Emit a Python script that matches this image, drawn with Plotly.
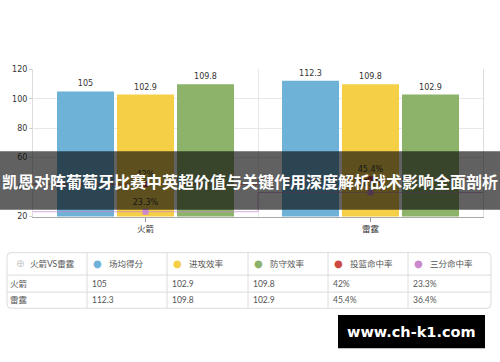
import plotly.graph_objects as go

# Team comparison data
teams = ["火箭", "雷霆"]
bar_names = ["场均得分", "进攻效率", "防守效率"]
avg_points = [105, 112.3]
off_eff = [102.9, 109.8]
def_eff = [109.8, 102.9]
line_names = ["投篮命中率", "三分命中率"]
fg_pct = [42, 45.4]
three_pct = [23.3, 36.4]
y_ticks = [20, 40, 60, 80, 100, 120]

title_text = "凯恩对阵葡萄牙比赛中英超价值与关键作用深度解析战术影响全面剖析"
table_corner = "火箭VS雷霆"
watermark = "www.ch-k1.com"

bar_colors = ["#6EB2D8", "#F5CF46", "#8DB269"]
line_colors = ["#CC4A42", "#CC88CC"]

W, H = 500, 362
def px_x(p):
    return p / W
def px_y(p):
    return 1 - p / H

CHART_FONT = "DejaVu Sans, 'Noto Sans CJK SC'"
TABLE_FONT = "Lato, 'Noto Sans CJK SC'"

fig = go.Figure()
xs = list(range(len(teams)))

for name, vals, col in zip(bar_names, [avg_points, off_eff, def_eff], bar_colors):
    fig.add_trace(go.Bar(
        x=xs, y=vals, name=name, marker_color=col, marker_line_width=0,
        text=[f"{v:g}" for v in vals], textposition="outside",
        textfont=dict(family=CHART_FONT, size=8, color="#333"),
        cliponaxis=False,
    ))

# Percentage series as stepped lines spanning each category band
for name, vals, col in zip(line_names, [fg_pct, three_pct], line_colors):
    sx = [xs[0] - 0.5] + xs + [xs[-1] + 0.5]
    sy = [vals[0]] + vals + [vals[-1]]
    fig.add_trace(go.Scatter(
        x=sx, y=sy, mode="lines", line=dict(color=col, width=1, shape="hvh"),
        opacity=0.7, hoverinfo="skip", showlegend=False,
    ))
    fig.add_trace(go.Scatter(
        x=xs, y=vals, mode="markers+text", name=name,
        marker=dict(symbol="square", size=6, color=col),
        text=[f"{v:g}%" for v in vals], textposition="top center",
        textfont=dict(family=CHART_FONT, size=8, color="#333"),
        cliponaxis=False, showlegend=False,
    ))

fig.update_layout(
    width=W, height=H,
    margin=dict(l=0, r=0, t=0, b=0),
    paper_bgcolor="white", plot_bgcolor="white",
    barmode="group", bargap=0.2, bargroupgap=0.05,
    showlegend=False,
    xaxis=dict(
        domain=[px_x(33), px_x(483)],
        range=[-0.5, len(teams) - 0.5],
        tickvals=xs, ticktext=teams,
        ticks="outside", ticklen=4, tickcolor="#999",
        showgrid=False, zeroline=False,
        showline=True, linecolor="#aaa", linewidth=1,
        tickfont=dict(family=CHART_FONT, size=8.5, color="#333"),
        minor=dict(tickvals=[i - 0.5 for i in range(len(teams) + 1)],
                   showgrid=True, gridcolor="#e8e8e8", ticks=""),
    ),
    yaxis=dict(
        domain=[px_y(218), px_y(67)],
        range=[20, 120], tickvals=y_ticks,
        showgrid=True, gridcolor="#e8e8e8", zeroline=False,
        showline=True, linecolor="#ddd", mirror=True,
        ticks="outside", ticklen=3, tickcolor="#ccc",
        tickfont=dict(family=CHART_FONT, size=8, color="#333"),
    ),
)

# ---- Data table below the chart ----
col_edges = [7, 87, 167, 248, 328, 408, 491]
row_edges = [255, 278, 295.5, 312]
grid_col = "#dcdcdc"
r = 4  # corner radius in px

def P(x, y):
    return f"{px_x(x):.5f},{px_y(y):.5f}"

x0, x1 = col_edges[0], col_edges[-1]
y0, y1 = row_edges[0], row_edges[-1]
outline = (f"M {P(x0 + r, y0)} L {P(x1 - r, y0)} Q {P(x1, y0)} {P(x1, y0 + r)} "
           f"L {P(x1, y1 - r)} Q {P(x1, y1)} {P(x1 - r, y1)} "
           f"L {P(x0 + r, y1)} Q {P(x0, y1)} {P(x0, y1 - r)} "
           f"L {P(x0, y0 + r)} Q {P(x0, y0)} {P(x0 + r, y0)} Z")
fig.add_shape(type="path", xref="paper", yref="paper", path=outline,
              line=dict(color=grid_col, width=1), fillcolor="rgba(0,0,0,0)")
for cx in col_edges[1:-1]:
    fig.add_shape(type="line", xref="paper", yref="paper",
                  x0=px_x(cx), x1=px_x(cx), y0=px_y(y0), y1=px_y(y1),
                  line=dict(color=grid_col, width=1))
for ry in row_edges[1:-1]:
    fig.add_shape(type="line", xref="paper", yref="paper",
                  x0=px_x(x0), x1=px_x(x1), y0=px_y(ry), y1=px_y(ry),
                  line=dict(color=grid_col, width=1))

def cell_text(x, y, text, color="#555", size=8.5):
    fig.add_annotation(xref="paper", yref="paper", x=px_x(x), y=px_y(y),
                       xanchor="left", yanchor="middle", showarrow=False,
                       text=text, borderpad=0,
                       font=dict(family=TABLE_FONT, size=size, color=color))

def cell_dot(x, y, color, size=10):
    fig.add_annotation(xref="paper", yref="paper", x=px_x(x), y=px_y(y),
                       xanchor="center", yanchor="middle", showarrow=False,
                       text="●", borderpad=0,
                       font=dict(family="DejaVu Sans", size=size, color=color))

header_y = (row_edges[0] + row_edges[1]) / 2
row_ys = [(row_edges[i] + row_edges[i + 1]) / 2 for i in range(1, len(row_edges) - 1)]

# header
fig.add_annotation(xref="paper", yref="paper", x=px_x(col_edges[0] + 13), y=px_y(header_y),
                   xanchor="center", yanchor="middle", showarrow=False, text="⊕",
                   font=dict(family="DejaVu Sans", size=10, color="#c8c8c8"))
cell_text(col_edges[0] + 22, header_y, table_corner)
for i, (name, col) in enumerate(zip(bar_names + line_names, bar_colors + line_colors)):
    left = col_edges[i + 1]
    cell_dot(left + 10, header_y, col)
    cell_text(left + 21, header_y, name)

# body rows
col_values = [
    [f"{v:g}" for v in avg_points],
    [f"{v:g}" for v in off_eff],
    [f"{v:g}" for v in def_eff],
    [f"{v:g}%" for v in fg_pct],
    [f"{v:g}%" for v in three_pct],
]
for j, (team, ry) in enumerate(zip(teams, row_ys)):
    cell_text(col_edges[0] + 2, ry, team)
    for i, vals in enumerate(col_values):
        cell_text(col_edges[i + 1] + 4, ry, vals[j])

# Title banner across the chart
fig.add_shape(type="rect", xref="paper", yref="paper",
              x0=0, x1=1, y0=px_y(211), y1=px_y(151),
              fillcolor="rgba(8,8,8,0.64)", line_width=0, layer="above")
fig.add_annotation(xref="paper", yref="paper", x=0.5, y=px_y(181),
                   xanchor="center", yanchor="middle",
                   text=f"<b>{title_text}</b>", showarrow=False,
                   font=dict(family="Noto Sans CJK SC", size=16, color="white"))

# Site mark
fig.add_shape(type="rect", xref="paper", yref="paper",
              x0=px_x(338), x1=px_x(485), y0=px_y(353), y1=px_y(319),
              fillcolor="black", line_width=0, layer="above")
fig.add_annotation(xref="paper", yref="paper", x=px_x(411.5), y=px_y(336),
                   xanchor="center", yanchor="middle",
                   text=f"<b>{watermark}</b>", showarrow=False,
                   font=dict(family="DejaVu Sans", size=14.5, color="white"))

fig.write_html("out.html")
